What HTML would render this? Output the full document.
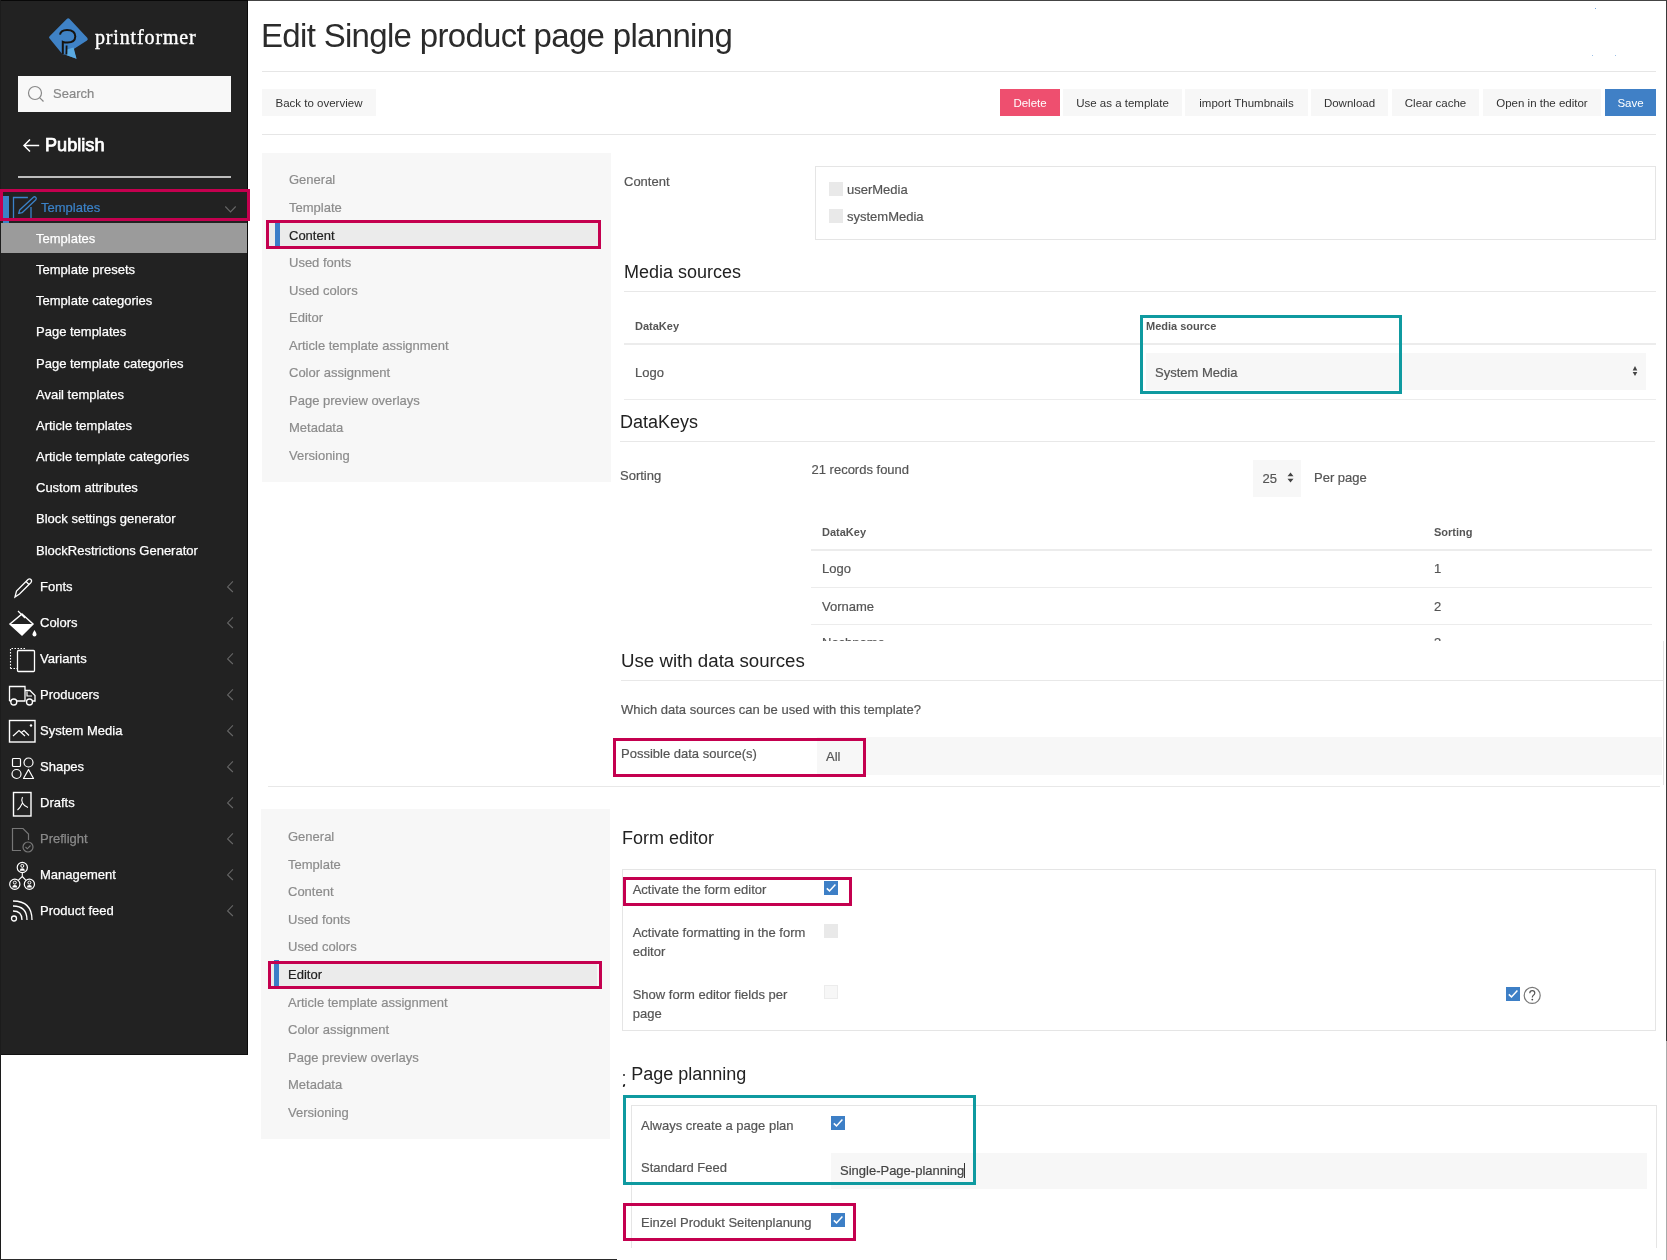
<!DOCTYPE html>
<html><head><meta charset="utf-8"><style>
*{box-sizing:border-box;margin:0;padding:0}
html,body{width:1667px;height:1260px;overflow:hidden;background:#fff;font-family:"Liberation Sans",sans-serif;color:#333}
.a{position:absolute;white-space:nowrap}
svg.a{overflow:visible}
</style></head><body>
<div style="position:absolute;left:0;top:0;width:1667px;height:1260px;will-change:transform"><div class="a" style="left:0px;top:0px;width:248px;height:1054px;background:#222"></div>
<svg class="a" style="left:46px;top:16px" width="46" height="46" viewBox="0 0 46 46">
<path d="M21 2.8 Q22.2 1.6 23.4 2.8 L41.2 21.8 Q42.6 23.4 41 24.6 L27.4 33.3 L30.5 42.8 L20.2 38.9 L16.3 38 L3.6 22.6 Q2.4 21.4 3.6 20.2 Z" fill="#3f82c6"/>
<path d="M19.8 33.8 L27.6 31.6 L30.5 42.8 L20.2 39 Z" fill="#5aaae2"/>
<path d="M14 18.6 Q14.6 14 21 13.9 Q29.3 13.9 29.3 20.5 Q29 26.6 21.6 26.6 Q18.5 26.6 16.8 25.8 L16.8 38" fill="none" stroke="#161310" stroke-width="2"/>
<path d="M20.6 29.4 L20.4 38.6" fill="none" stroke="#161310" stroke-width="1.8"/>
</svg>
<div class="a" style="left:95px;top:24.5px;font-family:'Liberation Serif',serif;font-size:20px;line-height:24px;color:#fff;letter-spacing:0.85px;-webkit-text-stroke:0.4px #fff">printformer</div>
<div class="a" style="left:18px;top:76px;width:213px;height:36px;background:#f8f8f8"></div>
<svg class="a" style="left:27px;top:85px" width="18" height="18" viewBox="0 0 18 18"><circle cx="8" cy="8" r="6.5" fill="none" stroke="#888" stroke-width="1.2"/><path d="M12.6 12.6 L16.5 16.5" stroke="#888" stroke-width="1.2"/></svg>
<div class="a" style="left:53px;top:87.00px;font-size:13px;line-height:13px;color:#888;font-weight:normal;-webkit-text-stroke:0.2px #888;">Search</div>
<svg class="a" style="left:22px;top:138px" width="19" height="15" viewBox="0 0 19 15"><path d="M17.2 7.5 H2 M8 1.5 L2 7.5 L8 13.5" fill="none" stroke="#fff" stroke-width="1.5"/></svg>
<div class="a" style="left:45px;top:135.84px;font-size:18.5px;line-height:18.5px;color:#fff;font-weight:normal;-webkit-text-stroke:0.75px #fff;letter-spacing:0px;transform:scaleX(0.98);transform-origin:0 0">Publish</div>
<div class="a" style="left:18px;top:176px;width:213px;height:2px;background:#bdbdbd"></div>
<div class="a" style="left:3px;top:196px;width:6px;height:27px;background:#3b82c8"></div>
<svg class="a" style="left:12px;top:194px" width="26" height="30" viewBox="0 0 26 30">
<path d="M15.9 3.5 H1.5 V26.2 H19 V13" fill="none" stroke="#3b82c8" stroke-width="1.3"/>
<path d="M6.7 19.4 L7.67 16.05 L21.38 3.19 Q22.6 2.2 23.82 3.4 Q24.8 4.6 23.82 5.81 L10.11 18.67 Z" fill="none" stroke="#3b82c8" stroke-width="1.3" stroke-linejoin="round"/>
</svg>
<div class="a" style="left:41px;top:201.20px;font-size:13px;line-height:13px;color:#3b82c8;font-weight:normal;-webkit-text-stroke:0.2px #3b82c8;">Templates</div>
<svg class="a" style="left:224px;top:204.5px" width="14" height="9" viewBox="0 0 14 9"><path d="M1.3 1.5 L6.5 6.9 L11.7 1.5" fill="none" stroke="#666" stroke-width="1.1"/></svg>
<div class="a" style="left:1px;top:223px;width:247px;height:30px;background:#9b9b9b"></div>
<div class="a" style="left:36px;top:232.00px;font-size:13px;line-height:13px;color:#fff;font-weight:normal;-webkit-text-stroke:0.25px #fff">Templates</div>
<div class="a" style="left:36px;top:263.15px;font-size:13px;line-height:13px;color:#fff;font-weight:normal;-webkit-text-stroke:0.25px #fff">Template presets</div>
<div class="a" style="left:36px;top:294.30px;font-size:13px;line-height:13px;color:#fff;font-weight:normal;-webkit-text-stroke:0.25px #fff">Template categories</div>
<div class="a" style="left:36px;top:325.45px;font-size:13px;line-height:13px;color:#fff;font-weight:normal;-webkit-text-stroke:0.25px #fff">Page templates</div>
<div class="a" style="left:36px;top:356.60px;font-size:13px;line-height:13px;color:#fff;font-weight:normal;-webkit-text-stroke:0.25px #fff">Page template categories</div>
<div class="a" style="left:36px;top:387.75px;font-size:13px;line-height:13px;color:#fff;font-weight:normal;-webkit-text-stroke:0.25px #fff">Avail templates</div>
<div class="a" style="left:36px;top:418.90px;font-size:13px;line-height:13px;color:#fff;font-weight:normal;-webkit-text-stroke:0.25px #fff">Article templates</div>
<div class="a" style="left:36px;top:450.05px;font-size:13px;line-height:13px;color:#fff;font-weight:normal;-webkit-text-stroke:0.25px #fff">Article template categories</div>
<div class="a" style="left:36px;top:481.20px;font-size:13px;line-height:13px;color:#fff;font-weight:normal;-webkit-text-stroke:0.25px #fff">Custom attributes</div>
<div class="a" style="left:36px;top:512.35px;font-size:13px;line-height:13px;color:#fff;font-weight:normal;-webkit-text-stroke:0.25px #fff">Block settings generator</div>
<div class="a" style="left:36px;top:543.50px;font-size:13px;line-height:13px;color:#fff;font-weight:normal;-webkit-text-stroke:0.25px #fff">BlockRestrictions Generator</div>
<div class="a" style="left:40px;top:580.00px;font-size:13px;line-height:13px;color:#fff;font-weight:normal;-webkit-text-stroke:0.25px #fff">Fonts</div>
<svg class="a" style="left:225px;top:580px" width="9" height="14" viewBox="0 0 9 14"><path d="M7.9 1.3 L2.6 6.9 L7.9 12" fill="none" stroke="#666" stroke-width="1.1"/></svg>
<div class="a" style="left:40px;top:616.00px;font-size:13px;line-height:13px;color:#fff;font-weight:normal;-webkit-text-stroke:0.25px #fff">Colors</div>
<svg class="a" style="left:225px;top:616px" width="9" height="14" viewBox="0 0 9 14"><path d="M7.9 1.3 L2.6 6.9 L7.9 12" fill="none" stroke="#666" stroke-width="1.1"/></svg>
<div class="a" style="left:40px;top:652.00px;font-size:13px;line-height:13px;color:#fff;font-weight:normal;-webkit-text-stroke:0.25px #fff">Variants</div>
<svg class="a" style="left:225px;top:652px" width="9" height="14" viewBox="0 0 9 14"><path d="M7.9 1.3 L2.6 6.9 L7.9 12" fill="none" stroke="#666" stroke-width="1.1"/></svg>
<div class="a" style="left:40px;top:688.00px;font-size:13px;line-height:13px;color:#fff;font-weight:normal;-webkit-text-stroke:0.25px #fff">Producers</div>
<svg class="a" style="left:225px;top:688px" width="9" height="14" viewBox="0 0 9 14"><path d="M7.9 1.3 L2.6 6.9 L7.9 12" fill="none" stroke="#666" stroke-width="1.1"/></svg>
<div class="a" style="left:40px;top:724.00px;font-size:13px;line-height:13px;color:#fff;font-weight:normal;-webkit-text-stroke:0.25px #fff">System Media</div>
<svg class="a" style="left:225px;top:724px" width="9" height="14" viewBox="0 0 9 14"><path d="M7.9 1.3 L2.6 6.9 L7.9 12" fill="none" stroke="#666" stroke-width="1.1"/></svg>
<div class="a" style="left:40px;top:760.00px;font-size:13px;line-height:13px;color:#fff;font-weight:normal;-webkit-text-stroke:0.25px #fff">Shapes</div>
<svg class="a" style="left:225px;top:760px" width="9" height="14" viewBox="0 0 9 14"><path d="M7.9 1.3 L2.6 6.9 L7.9 12" fill="none" stroke="#666" stroke-width="1.1"/></svg>
<div class="a" style="left:40px;top:796.00px;font-size:13px;line-height:13px;color:#fff;font-weight:normal;-webkit-text-stroke:0.25px #fff">Drafts</div>
<svg class="a" style="left:225px;top:796px" width="9" height="14" viewBox="0 0 9 14"><path d="M7.9 1.3 L2.6 6.9 L7.9 12" fill="none" stroke="#666" stroke-width="1.1"/></svg>
<div class="a" style="left:40px;top:832.00px;font-size:13px;line-height:13px;color:#8a8a8a;font-weight:normal;-webkit-text-stroke:0.25px #8a8a8a">Preflight</div>
<svg class="a" style="left:225px;top:832px" width="9" height="14" viewBox="0 0 9 14"><path d="M7.9 1.3 L2.6 6.9 L7.9 12" fill="none" stroke="#666" stroke-width="1.1"/></svg>
<div class="a" style="left:40px;top:868.00px;font-size:13px;line-height:13px;color:#fff;font-weight:normal;-webkit-text-stroke:0.25px #fff">Management</div>
<svg class="a" style="left:225px;top:868px" width="9" height="14" viewBox="0 0 9 14"><path d="M7.9 1.3 L2.6 6.9 L7.9 12" fill="none" stroke="#666" stroke-width="1.1"/></svg>
<div class="a" style="left:40px;top:904.00px;font-size:13px;line-height:13px;color:#fff;font-weight:normal;-webkit-text-stroke:0.25px #fff">Product feed</div>
<svg class="a" style="left:225px;top:904px" width="9" height="14" viewBox="0 0 9 14"><path d="M7.9 1.3 L2.6 6.9 L7.9 12" fill="none" stroke="#666" stroke-width="1.1"/></svg>
<svg class="a" style="left:12px;top:578px" width="22" height="22" viewBox="0 0 22 22"><path d="M3 19 L4.5 13 L16 1.5 Q17.5 0.2 19 1.5 Q20.3 3 19 4.5 L7.5 16 Z M14 3.5 L17 6.5" fill="none" stroke="#fff" stroke-width="1.3"/></svg>
<svg class="a" style="left:8px;top:610px" width="30" height="28" viewBox="0 0 30 28">
<path d="M14 4 L25 14 L14 25 L2 14 Z" fill="none" stroke="#fff" stroke-width="1.5"/>
<path d="M2 14 L25 14 L14 25 Z" fill="#fff"/>
<path d="M10 1 L17 8" stroke="#fff" stroke-width="1.3"/>
<path d="M26.5 20 Q24.5 23 24.5 24.5 A2 2 0 0 0 28.5 24.5 Q28.5 23 26.5 20 Z" fill="#fff"/>
</svg>
<svg class="a" style="left:9px;top:647px" width="27" height="26" viewBox="0 0 27 26">
<path d="M1.5 21.5 V1.5 H17" fill="none" stroke="#fff" stroke-width="1.1" stroke-dasharray="1.5 1.5"/>
<rect x="8.5" y="3.5" width="17" height="21" rx="1" fill="none" stroke="#fff" stroke-width="1.3"/>
<path d="M1.5 21.5 H8" fill="none" stroke="#fff" stroke-width="1.1" stroke-dasharray="1.5 1.5"/>
</svg>
<svg class="a" style="left:8px;top:685px" width="29" height="22" viewBox="0 0 29 22">
<path d="M1.5 16 V1.5 H17 V16 M17 5.5 H22 L27 10.5 V16 H24.5 M9 16 H17.5 M1.5 16 H3" fill="none" stroke="#fff" stroke-width="1.3"/>
<path d="M19 6.5 V11 H24" fill="none" stroke="#fff" stroke-width="1.2"/>
<circle cx="5.8" cy="17" r="3" fill="none" stroke="#fff" stroke-width="1.3"/>
<circle cx="21.5" cy="17" r="3" fill="none" stroke="#fff" stroke-width="1.3"/>
</svg>
<svg class="a" style="left:8px;top:719px" width="30" height="25" viewBox="0 0 30 25">
<rect x="1.5" y="1.5" width="25.5" height="21.5" fill="none" stroke="#fff" stroke-width="1.4"/>
<path d="M5 17 L11 11.5 L17 17 M13.5 13.5 L16 11.5 L21 16.5" fill="none" stroke="#fff" stroke-width="1.2"/>
<circle cx="23" cy="6.5" r="1.2" fill="#fff"/>
</svg>
<svg class="a" style="left:11px;top:757px" width="24" height="23" viewBox="0 0 24 23">
<rect x="1.5" y="1.5" width="8" height="8" rx="1" fill="none" stroke="#fff" stroke-width="1.2"/>
<circle cx="17.5" cy="5.5" r="4.5" fill="none" stroke="#fff" stroke-width="1.2"/>
<circle cx="5.5" cy="17" r="4.5" fill="none" stroke="#fff" stroke-width="1.2"/>
<path d="M17.5 12.5 L22.5 21.5 H12.5 Z" fill="none" stroke="#fff" stroke-width="1.2" stroke-linejoin="round"/>
</svg>
<svg class="a" style="left:12px;top:791px" width="22" height="27" viewBox="0 0 22 27">
<rect x="1.5" y="1.5" width="17.5" height="23.5" fill="none" stroke="#fff" stroke-width="1.4"/>
<path d="M10.5 6 Q9 9 10.5 12 Q12 15 16 16.5 M10.5 12 Q8 17 5.5 19" fill="none" stroke="#fff" stroke-width="1.1"/>
</svg>
<svg class="a" style="left:11px;top:827px" width="24" height="27" viewBox="0 0 24 27">
<path d="M10 23.5 H1.5 V1.5 H12 L17.5 7 V13" fill="none" stroke="#777" stroke-width="1.2"/>
<circle cx="17" cy="20" r="5" fill="none" stroke="#777" stroke-width="1.2"/>
<path d="M14.5 20 L16.3 21.8 L19.5 18.5" fill="none" stroke="#777" stroke-width="1.1"/>
</svg>
<svg class="a" style="left:9px;top:861px" width="28" height="30" viewBox="0 0 28 30"><circle cx="13.3" cy="6.5" r="5.1" fill="none" stroke="#fff" stroke-width="1.2"/><circle cx="13.3" cy="4.9" r="1.5" fill="none" stroke="#fff" stroke-width="1"/><path d="M10.700000000000001 9.7 Q10.9 7.3 13.3 7.3 Q15.700000000000001 7.3 15.9 9.7 Z" fill="#fff"/><circle cx="5.8" cy="23.2" r="5.1" fill="none" stroke="#fff" stroke-width="1.2"/><circle cx="5.8" cy="21.599999999999998" r="1.5" fill="none" stroke="#fff" stroke-width="1"/><path d="M3.1999999999999997 26.4 Q3.4 24.0 5.8 24.0 Q8.2 24.0 8.4 26.4 Z" fill="#fff"/><circle cx="20.4" cy="23.2" r="5.1" fill="none" stroke="#fff" stroke-width="1.2"/><circle cx="20.4" cy="21.599999999999998" r="1.5" fill="none" stroke="#fff" stroke-width="1"/><path d="M17.799999999999997 26.4 Q18.0 24.0 20.4 24.0 Q22.799999999999997 24.0 23.0 26.4 Z" fill="#fff"/><path d="M13.3 11.7 V15.5 L9.2 19.3 M13.3 15.5 L17 19.3" fill="none" stroke="#fff" stroke-width="1.1"/></svg>
<svg class="a" style="left:10px;top:898px" width="25" height="25" viewBox="0 0 25 25">
<circle cx="4" cy="20.5" r="2.5" fill="none" stroke="#fff" stroke-width="1.3"/>
<path d="M3 13 Q12 13 12 22 M3 8 Q17 8 17 22 M3 3 Q22 3 22 22" fill="none" stroke="#fff" stroke-width="1.3"/>
</svg>
<div class="a" style="left:248px;top:0px;width:1419px;height:1px;background:#444"></div>
<div class="a" style="left:0px;top:0px;width:248px;height:1px;background:#080808"></div>
<div class="a" style="left:247px;top:0px;width:1px;height:1055px;background:#0a0a0a"></div>
<div class="a" style="left:0px;top:1054px;width:248px;height:1px;background:#111"></div>
<div class="a" style="left:0px;top:0px;width:1px;height:1260px;background:#1c1c1c"></div>
<div class="a" style="left:1666px;top:0px;width:1px;height:1041px;background:#3a3a3a"></div>
<div class="a" style="left:1666px;top:1041px;width:1px;height:219px;background:#aaa"></div>
<div class="a" style="left:0px;top:1259px;width:617px;height:1px;background:#2a2a2a"></div>
<div class="a" style="left:1595px;top:8px;width:1px;height:1px;background:#6fa3dd"></div>
<div class="a" style="left:1592px;top:55px;width:1px;height:1px;background:#9cc0e8"></div>
<div class="a" style="left:1615px;top:55px;width:1px;height:1px;background:#9cc0e8"></div>
<div class="a" style="left:261px;top:19.27px;font-size:33px;line-height:33px;color:#2b2b2b;font-weight:normal;letter-spacing:-0.68px">Edit Single product page planning</div>
<div class="a" style="left:262px;top:71px;width:1394px;height:1px;background:#e6e6e6"></div>
<div class="a" style="left:262px;top:89px;width:114px;height:27px;background:#f7f7f7"></div>
<div class="a" style="left:262px;top:90px;width:114px;height:27px;text-align:center;font-size:11.5px;line-height:27px;color:#333">Back to overview</div>
<div class="a" style="left:1000px;top:89px;width:60px;height:27px;background:#ee4f6f"></div>
<div class="a" style="left:1000px;top:90px;width:60px;height:27px;text-align:center;font-size:11.5px;line-height:27px;color:#fff">Delete</div>
<div class="a" style="left:1063px;top:89px;width:119px;height:27px;background:#f7f7f7"></div>
<div class="a" style="left:1063px;top:90px;width:119px;height:27px;text-align:center;font-size:11.5px;line-height:27px;color:#333">Use as a template</div>
<div class="a" style="left:1185px;top:89px;width:123px;height:27px;background:#f7f7f7"></div>
<div class="a" style="left:1185px;top:90px;width:123px;height:27px;text-align:center;font-size:11.5px;line-height:27px;color:#333">import Thumbnails</div>
<div class="a" style="left:1311px;top:89px;width:77px;height:27px;background:#f7f7f7"></div>
<div class="a" style="left:1311px;top:90px;width:77px;height:27px;text-align:center;font-size:11.5px;line-height:27px;color:#333">Download</div>
<div class="a" style="left:1392px;top:89px;width:87px;height:27px;background:#f7f7f7"></div>
<div class="a" style="left:1392px;top:90px;width:87px;height:27px;text-align:center;font-size:11.5px;line-height:27px;color:#333">Clear cache</div>
<div class="a" style="left:1483px;top:89px;width:118px;height:27px;background:#f7f7f7"></div>
<div class="a" style="left:1483px;top:90px;width:118px;height:27px;text-align:center;font-size:11.5px;line-height:27px;color:#333">Open in the editor</div>
<div class="a" style="left:1605px;top:89px;width:51px;height:27px;background:#4080c6"></div>
<div class="a" style="left:1605px;top:90px;width:51px;height:27px;text-align:center;font-size:11.5px;line-height:27px;color:#fff">Save</div>
<div class="a" style="left:262px;top:134px;width:1394px;height:1px;background:#e6e6e6"></div>
<div class="a" style="left:262px;top:153px;width:349px;height:329px;background:#f7f7f7"></div>
<div class="a" style="left:289px;top:173.40px;font-size:13px;line-height:13px;color:#8c8c8c;font-weight:normal;-webkit-text-stroke:0.2px #8c8c8c;">General</div>
<div class="a" style="left:289px;top:200.95px;font-size:13px;line-height:13px;color:#8c8c8c;font-weight:normal;-webkit-text-stroke:0.2px #8c8c8c;">Template</div>
<div class="a" style="left:269px;top:222px;width:329px;height:25px;background:#ebebeb"></div>
<div class="a" style="left:275px;top:222px;width:5px;height:25px;background:#3b7dc8"></div>
<div class="a" style="left:289px;top:228.50px;font-size:13px;line-height:13px;color:#222;font-weight:normal;-webkit-text-stroke:0.2px #222;">Content</div>
<div class="a" style="left:289px;top:256.05px;font-size:13px;line-height:13px;color:#8c8c8c;font-weight:normal;-webkit-text-stroke:0.2px #8c8c8c;">Used fonts</div>
<div class="a" style="left:289px;top:283.60px;font-size:13px;line-height:13px;color:#8c8c8c;font-weight:normal;-webkit-text-stroke:0.2px #8c8c8c;">Used colors</div>
<div class="a" style="left:289px;top:311.15px;font-size:13px;line-height:13px;color:#8c8c8c;font-weight:normal;-webkit-text-stroke:0.2px #8c8c8c;">Editor</div>
<div class="a" style="left:289px;top:338.70px;font-size:13px;line-height:13px;color:#8c8c8c;font-weight:normal;-webkit-text-stroke:0.2px #8c8c8c;">Article template assignment</div>
<div class="a" style="left:289px;top:366.25px;font-size:13px;line-height:13px;color:#8c8c8c;font-weight:normal;-webkit-text-stroke:0.2px #8c8c8c;">Color assignment</div>
<div class="a" style="left:289px;top:393.80px;font-size:13px;line-height:13px;color:#8c8c8c;font-weight:normal;-webkit-text-stroke:0.2px #8c8c8c;">Page preview overlays</div>
<div class="a" style="left:289px;top:421.35px;font-size:13px;line-height:13px;color:#8c8c8c;font-weight:normal;-webkit-text-stroke:0.2px #8c8c8c;">Metadata</div>
<div class="a" style="left:289px;top:448.90px;font-size:13px;line-height:13px;color:#8c8c8c;font-weight:normal;-webkit-text-stroke:0.2px #8c8c8c;">Versioning</div>
<div class="a" style="left:266px;top:220px;width:335px;height:29px;border:3px solid #c4004f"></div>
<div class="a" style="left:261px;top:809px;width:349px;height:330px;background:#f7f7f7"></div>
<div class="a" style="left:288px;top:830.10px;font-size:13px;line-height:13px;color:#8c8c8c;font-weight:normal;-webkit-text-stroke:0.2px #8c8c8c;">General</div>
<div class="a" style="left:288px;top:857.67px;font-size:13px;line-height:13px;color:#8c8c8c;font-weight:normal;-webkit-text-stroke:0.2px #8c8c8c;">Template</div>
<div class="a" style="left:288px;top:885.24px;font-size:13px;line-height:13px;color:#8c8c8c;font-weight:normal;-webkit-text-stroke:0.2px #8c8c8c;">Content</div>
<div class="a" style="left:288px;top:912.81px;font-size:13px;line-height:13px;color:#8c8c8c;font-weight:normal;-webkit-text-stroke:0.2px #8c8c8c;">Used fonts</div>
<div class="a" style="left:288px;top:940.38px;font-size:13px;line-height:13px;color:#8c8c8c;font-weight:normal;-webkit-text-stroke:0.2px #8c8c8c;">Used colors</div>
<div class="a" style="left:270px;top:963px;width:327px;height:24px;background:#ebebeb"></div>
<div class="a" style="left:274px;top:960px;width:5px;height:27px;background:#3b7dc8"></div>
<div class="a" style="left:288px;top:967.95px;font-size:13px;line-height:13px;color:#222;font-weight:normal;-webkit-text-stroke:0.2px #222;">Editor</div>
<div class="a" style="left:288px;top:995.52px;font-size:13px;line-height:13px;color:#8c8c8c;font-weight:normal;-webkit-text-stroke:0.2px #8c8c8c;">Article template assignment</div>
<div class="a" style="left:288px;top:1023.09px;font-size:13px;line-height:13px;color:#8c8c8c;font-weight:normal;-webkit-text-stroke:0.2px #8c8c8c;">Color assignment</div>
<div class="a" style="left:288px;top:1050.66px;font-size:13px;line-height:13px;color:#8c8c8c;font-weight:normal;-webkit-text-stroke:0.2px #8c8c8c;">Page preview overlays</div>
<div class="a" style="left:288px;top:1078.23px;font-size:13px;line-height:13px;color:#8c8c8c;font-weight:normal;-webkit-text-stroke:0.2px #8c8c8c;">Metadata</div>
<div class="a" style="left:288px;top:1105.80px;font-size:13px;line-height:13px;color:#8c8c8c;font-weight:normal;-webkit-text-stroke:0.2px #8c8c8c;">Versioning</div>
<div class="a" style="left:268px;top:961px;width:334px;height:28px;border:3px solid #c4004f"></div>
<div class="a" style="left:624px;top:175.00px;font-size:13px;line-height:13px;color:#555;font-weight:normal;-webkit-text-stroke:0.2px #555;">Content</div>
<div class="a" style="left:815px;top:166px;width:841px;height:74px;border:1px solid #e5e5e5"></div>
<div class="a" style="left:829px;top:182px;width:14px;height:14px;background:#e9e9e9"></div>
<div class="a" style="left:847px;top:183.00px;font-size:13px;line-height:13px;color:#555;font-weight:normal;-webkit-text-stroke:0.2px #555;">userMedia</div>
<div class="a" style="left:829px;top:209px;width:14px;height:14px;background:#e9e9e9"></div>
<div class="a" style="left:847px;top:209.90px;font-size:13px;line-height:13px;color:#555;font-weight:normal;-webkit-text-stroke:0.2px #555;">systemMedia</div>
<div class="a" style="left:624px;top:262.76px;font-size:18px;line-height:18px;color:#222;font-weight:normal;">Media sources</div>
<div class="a" style="left:624px;top:291px;width:1032px;height:1px;background:#e8e8e8"></div>
<div class="a" style="left:635px;top:321.09px;font-size:11px;line-height:11px;color:#555;font-weight:bold;">DataKey</div>
<div class="a" style="left:1146px;top:321.09px;font-size:11px;line-height:11px;color:#555;font-weight:bold;">Media source</div>
<div class="a" style="left:624px;top:343px;width:1032px;height:2px;background:#ececec"></div>
<div class="a" style="left:635px;top:365.50px;font-size:13px;line-height:13px;color:#555;font-weight:normal;-webkit-text-stroke:0.2px #555;">Logo</div>
<div class="a" style="left:1146px;top:353px;width:500px;height:37px;background:#f7f7f7"></div>
<div class="a" style="left:1155px;top:365.50px;font-size:13px;line-height:13px;color:#555;font-weight:normal;-webkit-text-stroke:0.2px #555;">System Media</div>
<svg class="a" style="left:1631px;top:365px" width="8" height="13" viewBox="0 0 8 13"><path d="M4 1 L6.3 5.4 H1.7 Z M4 11 L6.3 7 H1.7 Z" fill="#444"/></svg>
<div class="a" style="left:624px;top:399px;width:1032px;height:1px;background:#ececec"></div>
<div class="a" style="left:1140px;top:315px;width:262px;height:79px;border:3px solid #0f9aa0"></div>
<div class="a" style="left:620px;top:413.46px;font-size:18px;line-height:18px;color:#222;font-weight:normal;">DataKeys</div>
<div class="a" style="left:620px;top:441px;width:1035px;height:1px;background:#e8e8e8"></div>
<div class="a" style="left:620px;top:469.40px;font-size:13px;line-height:13px;color:#555;font-weight:normal;-webkit-text-stroke:0.2px #555;">Sorting</div>
<div class="a" style="left:811.5px;top:463.00px;font-size:13px;line-height:13px;color:#555;font-weight:normal;-webkit-text-stroke:0.2px #555;">21 records found</div>
<div class="a" style="left:1253px;top:460px;width:48px;height:37px;background:#f7f7f7"></div>
<div class="a" style="left:1262.6px;top:472.00px;font-size:13px;line-height:13px;color:#555;font-weight:normal;-webkit-text-stroke:0.2px #555;">25</div>
<svg class="a" style="left:1287px;top:472px" width="7" height="11" viewBox="0 0 7 11"><path d="M3.5 0.5 L6.5 4.2 H0.5 Z M3.5 10.5 L6.5 6.8 H0.5 Z" fill="#444"/></svg>
<div class="a" style="left:1314px;top:471.00px;font-size:13px;line-height:13px;color:#555;font-weight:normal;-webkit-text-stroke:0.2px #555;">Per page</div>
<div class="a" style="left:822px;top:526.69px;font-size:11px;line-height:11px;color:#555;font-weight:bold;">DataKey</div>
<div class="a" style="left:1434px;top:526.69px;font-size:11px;line-height:11px;color:#555;font-weight:bold;">Sorting</div>
<div class="a" style="left:811px;top:549px;width:841px;height:2px;background:#ececec"></div>
<div class="a" style="left:822px;top:561.80px;font-size:13px;line-height:13px;color:#555;font-weight:normal;-webkit-text-stroke:0.2px #555;">Logo</div>
<div class="a" style="left:1434px;top:561.80px;font-size:13px;line-height:13px;color:#555;font-weight:normal;-webkit-text-stroke:0.2px #555;">1</div>
<div class="a" style="left:811px;top:587px;width:841px;height:1px;background:#ececec"></div>
<div class="a" style="left:822px;top:599.60px;font-size:13px;line-height:13px;color:#555;font-weight:normal;-webkit-text-stroke:0.2px #555;">Vorname</div>
<div class="a" style="left:1434px;top:599.60px;font-size:13px;line-height:13px;color:#555;font-weight:normal;-webkit-text-stroke:0.2px #555;">2</div>
<div class="a" style="left:811px;top:624px;width:841px;height:1px;background:#ececec"></div>
<div class="a" style="left:811px;top:630px;width:841px;height:11px;overflow:hidden">
<div class="a" style="left:11px;top:5.60px;font-size:13px;line-height:13px;color:#555;font-weight:normal;-webkit-text-stroke:0.2px #555;">Nachname</div>
<div class="a" style="left:623px;top:5.60px;font-size:13px;line-height:13px;color:#555;font-weight:normal;-webkit-text-stroke:0.2px #555;">3</div>
</div>
<div class="a" style="left:621px;top:651.77px;font-size:18.7px;line-height:18.7px;color:#222;font-weight:normal;">Use with data sources</div>
<div class="a" style="left:621px;top:680px;width:1042px;height:1px;background:#e8e8e8"></div>
<div class="a" style="left:1663px;top:641px;width:1px;height:144px;background:#e4e4e4"></div>
<div class="a" style="left:621px;top:702.80px;font-size:13px;line-height:13px;color:#555;font-weight:normal;-webkit-text-stroke:0.2px #555;">Which data sources can be used with this template?</div>
<div class="a" style="left:817px;top:737px;width:845px;height:38px;background:#f7f7f7"></div>
<div class="a" style="left:621px;top:746.90px;font-size:13px;line-height:13px;color:#555;font-weight:normal;-webkit-text-stroke:0.2px #555;">Possible data source(s)</div>
<div class="a" style="left:826px;top:749.60px;font-size:13px;line-height:13px;color:#555;font-weight:normal;-webkit-text-stroke:0.2px #555;">All</div>
<div class="a" style="left:613px;top:738px;width:253px;height:39px;border:3px solid #c4004f"></div>
<div class="a" style="left:268px;top:786px;width:1392px;height:1px;background:#e8e8e8"></div>
<div class="a" style="left:622px;top:829.26px;font-size:18px;line-height:18px;color:#222;font-weight:normal;">Form editor</div>
<div class="a" style="left:622px;top:869px;width:1034px;height:162px;border:1px solid #e5e5e5"></div>
<div class="a" style="left:632.7px;top:883.00px;font-size:13px;line-height:13px;color:#555;font-weight:normal;-webkit-text-stroke:0.2px #555;">Activate the form editor</div>
<svg class="a" style="left:824px;top:881px" width="14" height="14" viewBox="0 0 14 14"><rect width="14" height="14" fill="#3d7fc6"/><path d="M2.8 7.4 L5.5 9.9 L11.4 3.6" fill="none" stroke="#fff" stroke-width="1.5"/></svg>
<div class="a" style="left:623px;top:877px;width:229px;height:29px;border:3px solid #c4004f"></div>
<div class="a" style="left:632.7px;top:926.30px;font-size:13px;line-height:13px;color:#555;font-weight:normal;-webkit-text-stroke:0.2px #555;">Activate formatting in the form</div>
<div class="a" style="left:632.7px;top:945.30px;font-size:13px;line-height:13px;color:#555;font-weight:normal;-webkit-text-stroke:0.2px #555;">editor</div>
<div class="a" style="left:824px;top:923.5px;width:14px;height:14px;background:#e9e9e9"></div>
<div class="a" style="left:632.7px;top:987.60px;font-size:13px;line-height:13px;color:#555;font-weight:normal;-webkit-text-stroke:0.2px #555;">Show form editor fields per</div>
<div class="a" style="left:632.7px;top:1006.70px;font-size:13px;line-height:13px;color:#555;font-weight:normal;-webkit-text-stroke:0.2px #555;">page</div>
<div class="a" style="left:824px;top:985px;width:14px;height:14px;background:#f7f7f7;border:1px solid #ececec"></div>
<svg class="a" style="left:1505.5px;top:987px" width="14" height="14" viewBox="0 0 14 14"><rect width="14" height="14" fill="#3d7fc6"/><path d="M2.8 7.4 L5.5 9.9 L11.4 3.6" fill="none" stroke="#fff" stroke-width="1.5"/></svg>
<svg class="a" style="left:1523px;top:986px" width="19" height="19" viewBox="0 0 19 19"><circle cx="9.2" cy="9.4" r="8" fill="none" stroke="#777" stroke-width="1.2"/><path d="M6.8 7.2 Q6.8 4.6 9.3 4.6 Q11.8 4.6 11.8 7 Q11.8 8.4 10.4 9.3 Q9.3 10 9.3 11.6" fill="none" stroke="#555" stroke-width="1.2"/><circle cx="9.3" cy="13.6" r="0.9" fill="#444"/></svg>
<div class="a" style="left:623px;top:1073.5px;width:1.5px;height:2px;background:#222;border-radius:1px"></div>
<div class="a" style="left:623px;top:1084px;width:1.5px;height:3px;background:#222;border-radius:1px;transform:skewX(-15deg)"></div>
<div class="a" style="left:631.2px;top:1064.86px;font-size:18px;line-height:18px;color:#222;font-weight:normal;">Page planning</div>
<div class="a" style="left:631px;top:1104.5px;width:1026px;height:143px;border:1px solid #e5e5e5;border-bottom:none"></div>
<div class="a" style="left:641px;top:1118.80px;font-size:13px;line-height:13px;color:#555;font-weight:normal;-webkit-text-stroke:0.2px #555;">Always create a page plan</div>
<svg class="a" style="left:831px;top:1116px" width="14" height="14" viewBox="0 0 14 14"><rect width="14" height="14" fill="#3d7fc6"/><path d="M2.8 7.4 L5.5 9.9 L11.4 3.6" fill="none" stroke="#fff" stroke-width="1.5"/></svg>
<div class="a" style="left:641px;top:1161.00px;font-size:13px;line-height:13px;color:#555;font-weight:normal;-webkit-text-stroke:0.2px #555;">Standard Feed</div>
<div class="a" style="left:831px;top:1152.5px;width:816px;height:36.5px;background:#f7f7f7"></div>
<div class="a" style="left:840px;top:1164.00px;font-size:13px;line-height:13px;color:#444;font-weight:normal;-webkit-text-stroke:0.2px #444;">Single-Page-planning</div>
<div class="a" style="left:963.5px;top:1163px;width:1px;height:15px;background:#333"></div>
<div class="a" style="left:623px;top:1095px;width:353px;height:90px;border:3px solid #0f9aa0"></div>
<div class="a" style="left:641px;top:1215.70px;font-size:13px;line-height:13px;color:#555;font-weight:normal;-webkit-text-stroke:0.2px #555;">Einzel Produkt Seitenplanung</div>
<svg class="a" style="left:831px;top:1213px" width="14" height="14" viewBox="0 0 14 14"><rect width="14" height="14" fill="#3d7fc6"/><path d="M2.8 7.4 L5.5 9.9 L11.4 3.6" fill="none" stroke="#fff" stroke-width="1.5"/></svg>
<div class="a" style="left:623px;top:1203px;width:233px;height:38px;border:3px solid #c4004f"></div>
<div class="a" style="left:0px;top:189px;width:250px;height:32px;border:3px solid #c4004f"></div>
</div></body></html>
